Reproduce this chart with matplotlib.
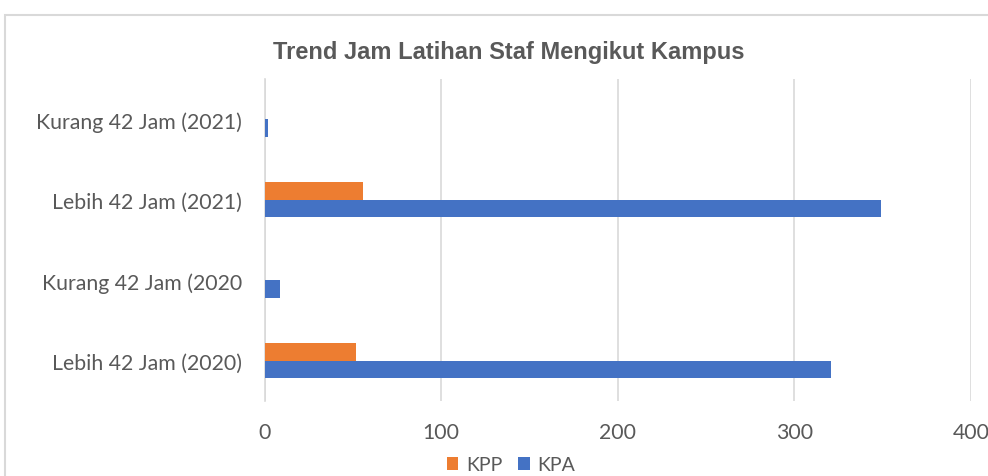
import matplotlib.pyplot as plt
from matplotlib.patches import Rectangle
import numpy as np

# data
categories = ['Lebih 42 Jam (2020)', 'Kurang 42 Jam (2020',
              'Lebih 42 Jam (2021)', 'Kurang 42 Jam (2021)']
kpp = [52, 0, 56, 0]
kpa = [321, 9, 349, 2]
xticks = [0, 100, 200, 300, 400]

plt.rcParams['font.family'] = ['Lato', 'DejaVu Sans']
text_col = '#595959'
grid_col = '#d9d9d9'

fig = plt.figure(figsize=(9.88, 4.77), dpi=100)
ax = fig.add_axes([264.5 / 988, 1 - 402 / 477, (971 - 264.5) / 988, 322 / 477])

y = np.arange(len(categories))
h = 0.22
ax.barh(y + h / 2, kpp, height=h, color='#ED7D31', label='KPP', zorder=3)
ax.barh(y - h / 2, kpa, height=h, color='#4472C4', label='KPA', zorder=3)

ax.set_xlim(0, 400)
ax.set_ylim(-0.5, 3.5)
ax.set_xticks(xticks)
ax.set_yticks(y)
ax.set_yticklabels(categories)
ax.tick_params(axis='both', length=0, labelsize=15.3, colors=text_col)
ax.tick_params(axis='x', pad=15)
ax.tick_params(axis='y', pad=16)
ax.xaxis.grid(True, color=grid_col, linewidth=1.2, zorder=0)
for s in ['top', 'right', 'bottom']:
    ax.spines[s].set_visible(False)
ax.spines['left'].set_color(grid_col)
ax.spines['left'].set_linewidth(1.2)

fig.text(509 / 988, 1 - 52 / 477, 'Trend Jam Latihan Staf Mengikut Kampus',
         ha='center', va='center', fontsize=17, fontweight='bold',
         color=text_col, family=['Liberation Sans', 'DejaVu Sans'])

ax.legend(loc='center', bbox_to_anchor=(511 / 988, 1 - 466 / 477),
          bbox_transform=fig.transFigure, ncol=2, frameon=False,
          fontsize=14, labelcolor=text_col, handlelength=0.6,
          handleheight=0.6, handletextpad=0.4, columnspacing=0.8)

# chart frame
fig.patches.append(Rectangle((5 / 988, -0.1), 1.0, 1 - 16 / 477 + 0.1,
                             transform=fig.transFigure, fill=False,
                             edgecolor=grid_col, linewidth=1.5))

fig.savefig('out.png', dpi=100)
